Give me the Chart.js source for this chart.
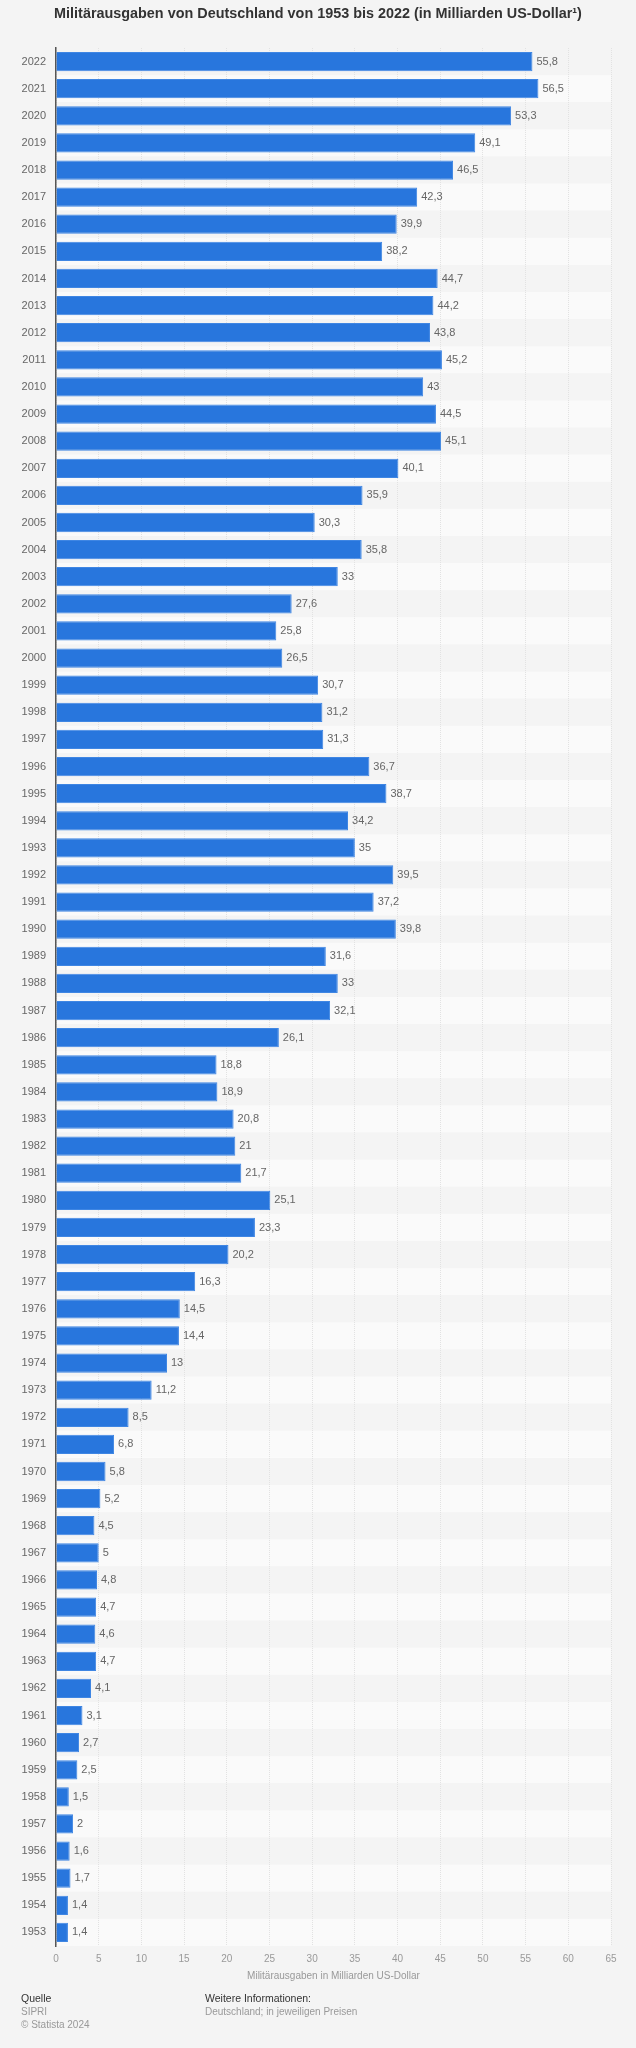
<!DOCTYPE html>
<html>
<head>
<meta charset="utf-8">
<script src="https://cdn.jsdelivr.net/npm/chart.js@4.4.1/dist/chart.umd.min.js"></script>
<style>
  body { margin: 0; background: #f4f4f4; font-family: "Liberation Sans", Arial, sans-serif; }
  #wrap { position: relative; width: 636px; height: 2048px; }
  #title { position: absolute; top: 5px; left: 0; width: 636px; text-align: center; font-size: 14.4px; font-weight: bold; color: #333; }
  .foot { position: absolute; font-size: 10px; line-height: 13px; color: #999; }
  .foot b { font-weight: normal; color: #333; font-size: 10.5px; }
  canvas { position: absolute; top: 0; left: 0; }
</style>
</head>
<body>
<div id="wrap">
  <canvas id="chart" width="636" height="2048"></canvas>
  <div id="title">Militärausgaben von Deutschland von 1953 bis 2022 (in Milliarden US-Dollar¹)</div>
  <div class="foot" style="left:21px; top:1992px;"><b>Quelle</b><br>SIPRI<br>© Statista 2024</div>
  <div class="foot" style="left:205px; top:1992px;"><b>Weitere Informationen:</b><br>Deutschland; in jeweiligen Preisen</div>
</div>
<script>
// Jahre von oben nach unten
const jahre = ['2022','2021','2020','2019','2018','2017','2016','2015','2014','2013',
  '2012','2011','2010','2009','2008','2007','2006','2005','2004','2003',
  '2002','2001','2000','1999','1998','1997','1996','1995','1994','1993',
  '1992','1991','1990','1989','1988','1987','1986','1985','1984','1983',
  '1982','1981','1980','1979','1978','1977','1976','1975','1974','1973',
  '1972','1971','1970','1969','1968','1967','1966','1965','1964','1963',
  '1962','1961','1960','1959','1958','1957','1956','1955','1954','1953'];

// Militärausgaben in Mrd. US-Dollar
const ausgaben = [55.8, 56.5, 53.3, 49.1, 46.5, 42.3, 39.9, 38.2, 44.7, 44.2,
  43.8, 45.2, 43, 44.5, 45.1, 40.1, 35.9, 30.3, 35.8, 33,
  27.6, 25.8, 26.5, 30.7, 31.2, 31.3, 36.7, 38.7, 34.2, 35,
  39.5, 37.2, 39.8, 31.6, 33, 32.1, 26.1, 18.8, 18.9, 20.8,
  21, 21.7, 25.1, 23.3, 20.2, 16.3, 14.5, 14.4, 13, 11.2,
  8.5, 6.8, 5.8, 5.2, 4.5, 5, 4.8, 4.7, 4.6, 4.7,
  4.1, 3.1, 2.7, 2.5, 1.5, 2, 1.6, 1.7, 1.4, 1.4];

const xMax = 65;
const xStep = 5;

function deZahl(v) {
  return String(v).replace('.', ',');
}

// gestreifter Hintergrund pro Zeile
const streifen = {
  id: 'streifen',
  beforeDraw(chart) {
    const ctx = chart.ctx;
    const area = chart.chartArea;
    const y = chart.scales.y;
    const h = (area.bottom - area.top) / jahre.length;
    ctx.save();
    for (let i = 0; i < jahre.length; i++) {
      ctx.fillStyle = i % 2 === 0 ? '#f4f4f4' : '#fafafa';
      const mitte = y.getPixelForValue(i);
      ctx.fillRect(area.left, mitte - h / 2, area.right - area.left, h);
    }
    ctx.restore();
  }
};

// Werte rechts neben den Balken
const werte = {
  id: 'werte',
  afterDatasetsDraw(chart) {
    const ctx = chart.ctx;
    const meta = chart.getDatasetMeta(0);
    ctx.save();
    ctx.font = '11px "Liberation Sans", Arial, sans-serif';
    ctx.fillStyle = '#666';
    ctx.textAlign = 'left';
    ctx.textBaseline = 'middle';
    meta.data.forEach((bar, i) => {
      ctx.fillText(deZahl(ausgaben[i]), bar.x + 4, bar.y);
    });
    ctx.restore();
  }
};

new Chart(document.getElementById('chart'), {
  type: 'bar',
  data: {
    labels: jahre,
    datasets: [{
      data: ausgaben,
      backgroundColor: '#2876dd',
      borderColor: '#3f86e3',
      borderWidth: 1,
      borderSkipped: 'left',
      barPercentage: 0.71,
      categoryPercentage: 1
    }]
  },
  options: {
    indexAxis: 'y',
    responsive: false,
    animation: false,
    layout: { padding: { top: 48, right: 25, bottom: 62, left: 0 } },
    plugins: { legend: { display: false }, tooltip: { enabled: false } },
    scales: {
      x: {
        min: 0,
        max: xMax,
        ticks: { stepSize: xStep, color: '#999', font: { size: 10, family: '"Liberation Sans", Arial' }, padding: 7 },
        grid: { color: '#e2e2e2', lineWidth: 1, drawTicks: false },
        border: { display: false, dash: [1, 1] },
        title: { display: true, text: 'Militärausgaben in Milliarden US-Dollar', color: '#999', font: { size: 10, family: '"Liberation Sans", Arial' }, padding: { top: 3 } },
        afterFit(scale) { scale.height = 40; }
      },
      y: {
        ticks: { color: '#666', font: { size: 11, family: '"Liberation Sans", Arial' }, padding: 10 },
        grid: { display: false, drawTicks: false },
        border: { display: true, color: '#555', width: 1.5 },
        afterFit(scale) { scale.width = 56; }
      }
    }
  },
  plugins: [streifen, werte]
});
</script>
</body>
</html>
